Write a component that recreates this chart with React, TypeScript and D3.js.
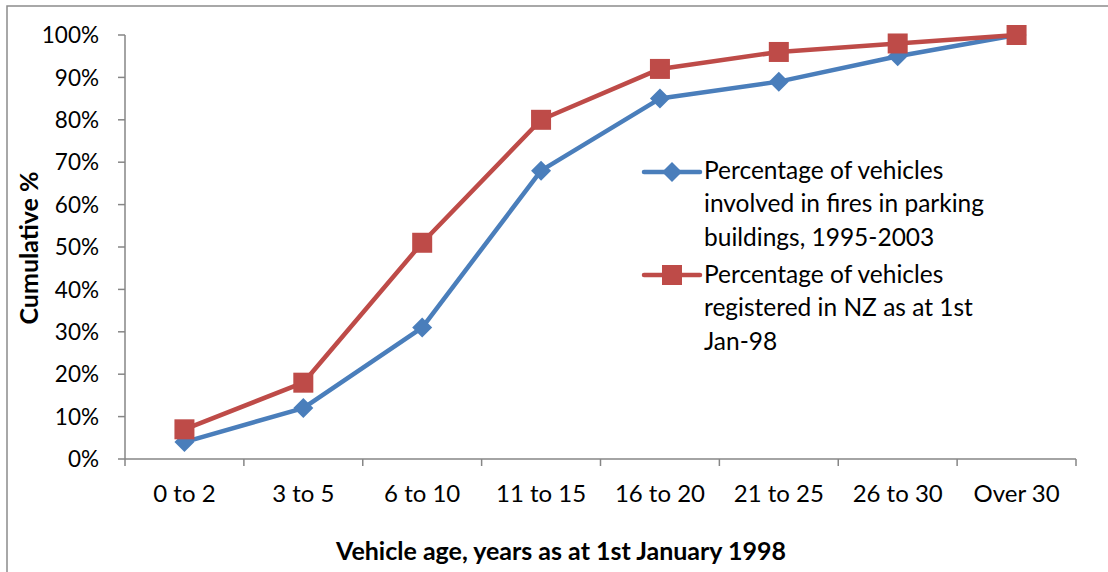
import React from "react";
import * as d3 from "d3";

const categories = ["0 to 2", "3 to 5", "6 to 10", "11 to 15", "16 to 20", "21 to 25", "26 to 30", "Over 30"];
const firesValues = [4, 12, 31, 68, 85, 89, 95, 100];
const registeredValues = [7, 18, 51, 80, 92, 96, 98, 100];
const yTicks = [0, 10, 20, 30, 40, 50, 60, 70, 80, 90, 100];
const legendFires = ["Percentage of vehicles", "involved in fires in parking", "buildings, 1995-2003"];
const legendRegistered = ["Percentage of vehicles", "registered in NZ as at 1st", "Jan-98"];

const W = 1108;
const H = 572;
const FONT = "Lato, 'Open Sans', sans-serif";
const BLUE = "#4A7EBB";
const RED = "#BE4B48";
const AXIS = "#868686";

export default function App() {
  const left = 125, right = 1076, top = 35, bottom = 459;
  const x = d3.scaleBand<string>().domain(categories).range([left, right]).padding(0);
  const y = d3.scaleLinear().domain([0, 100]).range([bottom, top]);
  const cx = (c: string) => (x(c) as number) + x.bandwidth() / 2;
  const line = d3.line<number>().x((_, i) => cx(categories[i])).y((d) => y(d));

  const diamond = (px: number, py: number, r: number) =>
    `M${px},${py - r}L${px + r},${py}L${px},${py + r}L${px - r},${py}Z`;

  const tickXs = categories.map((c) => x(c) as number).concat([right]);

  return (
    <svg width={W} height={H} style={{ position: "absolute", left: 0, top: 0, background: "#fff" }} fontFamily={FONT}>
      <rect x={7} y={6} width={W + 20} height={H + 20} fill="#fff" stroke="#8c8c8c" strokeWidth={1.5} />
      {/* y axis */}
      <line x1={left} x2={left} y1={top} y2={bottom} stroke={AXIS} strokeWidth={1.5} />
      {yTicks.map((t) => (
        <g key={t}>
          <line x1={left - 7} x2={left} y1={y(t)} y2={y(t)} stroke={AXIS} strokeWidth={1.5} />
          <text x={99} y={y(t)} dy="0.36em" textAnchor="end" fontSize={22.5} fill="#000">{t}%</text>
        </g>
      ))}
      {/* x axis */}
      <line x1={left} x2={right} y1={bottom} y2={bottom} stroke={AXIS} strokeWidth={1.5} />
      {tickXs.map((tx, i) => (
        <line key={i} x1={tx} x2={tx} y1={bottom} y2={bottom + 7} stroke={AXIS} strokeWidth={1.5} />
      ))}
      {categories.map((c) => (
        <text key={c} x={cx(c)} y={493} dy="0.36em" textAnchor="middle" fontSize={24} fill="#000">{c}</text>
      ))}
      {/* titles */}
      <text x={561} y={551} dy="0.36em" textAnchor="middle" fontSize={25} fontWeight="bold" fill="#000">
        Vehicle age, years as at 1st January 1998
      </text>
      <text transform={`translate(29,248) rotate(-90)`} dy="0.36em" textAnchor="middle" fontSize={25} fontWeight="bold" fill="#000">
        Cumulative %
      </text>
      {/* series */}
      <path d={line(firesValues) || ""} fill="none" stroke={BLUE} strokeWidth={4.5} strokeLinejoin="round" />
      {firesValues.map((v, i) => (
        <path key={i} d={diamond(cx(categories[i]), y(v), 10)} fill={BLUE} />
      ))}
      <path d={line(registeredValues) || ""} fill="none" stroke={RED} strokeWidth={4.5} strokeLinejoin="round" />
      {registeredValues.map((v, i) => (
        <rect key={i} x={cx(categories[i]) - 10} y={y(v) - 10} width={20} height={20} fill={RED} />
      ))}
      {/* legend */}
      <line x1={644} x2={700} y1={172} y2={172} stroke={BLUE} strokeWidth={4.5} strokeLinecap="round" />
      <path d={diamond(672, 172, 10)} fill={BLUE} />
      {legendFires.map((t, i) => (
        <text key={t} x={704} y={170 + i * 33.5} dy="0.36em" fontSize={24.5} fill="#000">{t}</text>
      ))}
      <line x1={644} x2={700} y1={275} y2={275} stroke={RED} strokeWidth={4.5} strokeLinecap="round" />
      <rect x={662} y={265} width={20} height={20} fill={RED} />
      {legendRegistered.map((t, i) => (
        <text key={t} x={704} y={274 + i * 33.5} dy="0.36em" fontSize={24.5} fill="#000">{t}</text>
      ))}
    </svg>
  );
}
